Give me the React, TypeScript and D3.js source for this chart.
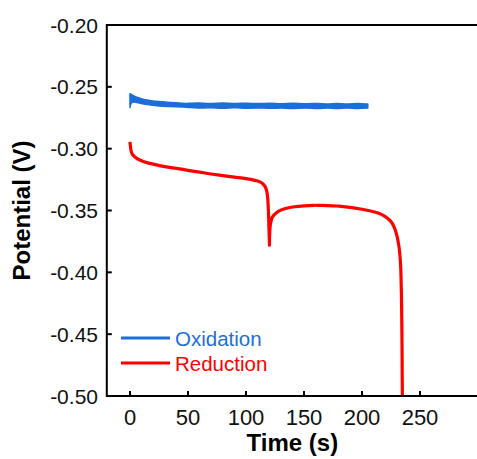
import React from "react";
import * as d3 from "d3";

// oxidation trace: drawn as a thin band (upper / lower envelope of the noisy signal)
const oxTime = [0, 0.8, 3, 7, 12, 18, 25, 32, 40, 45, 50, 58, 69, 80, 90, 101, 111, 121, 130, 140, 151, 162, 170, 178, 187, 196, 205];
const oxUpper = [-0.2555, -0.256, -0.2572, -0.2588, -0.2603, -0.2612, -0.262, -0.2625, -0.263, -0.2633, -0.2635, -0.2627, -0.2637, -0.2628, -0.2638, -0.2629, -0.2639, -0.2629, -0.264, -0.263, -0.264, -0.2631, -0.2641, -0.2632, -0.2641, -0.2632, -0.2639];
const oxLower = [-0.2668, -0.2625, -0.2622, -0.2628, -0.264, -0.2648, -0.2655, -0.2659, -0.2662, -0.2664, -0.2665, -0.2675, -0.2665, -0.2676, -0.2666, -0.2677, -0.2667, -0.2677, -0.2668, -0.2678, -0.2668, -0.2679, -0.2669, -0.2678, -0.2669, -0.2678, -0.2671];

// reduction trace
const redTime = [0, 0.5, 1, 2, 4, 8, 12, 20, 30, 40, 50, 60, 70, 80, 90, 100, 105, 110, 114, 116, 117.5, 118.5, 119.3, 119.8, 120.2, 120.6, 121.5, 123, 126, 130, 135, 140, 150, 160, 170, 180, 190, 200, 210, 215, 220, 225, 228, 230, 232, 233, 233.8, 234.3, 234.6, 234.8, 235];
const redValue = [-0.2945, -0.299, -0.302, -0.3045, -0.3065, -0.309, -0.3105, -0.3125, -0.3145, -0.316, -0.3175, -0.319, -0.3205, -0.3218, -0.323, -0.3242, -0.325, -0.3262, -0.328, -0.33, -0.333, -0.338, -0.35, -0.365, -0.378, -0.365, -0.359, -0.355, -0.352, -0.3497, -0.3482, -0.3472, -0.3462, -0.3458, -0.346, -0.3465, -0.3475, -0.349, -0.351, -0.3525, -0.355, -0.359, -0.364, -0.37, -0.38, -0.39, -0.41, -0.44, -0.47, -0.5, -0.51];

const xTicks = [0, 50, 100, 150, 200, 250];
const yTicks = [-0.2, -0.25, -0.3, -0.35, -0.4, -0.45, -0.5];

const seriesNames = ["Oxidation", "Reduction"];
const seriesColors = ["#1c6ed9", "#ff0000"];

const W = 477;
const H = 459;
const left = 106.8;
const right = 478;
const top = 25;
const bottom = 396;

export default function App() {
  const x = d3.scaleLinear().domain([-20, 300]).range([left, right]);
  const y = d3.scaleLinear().domain([-0.5, -0.2]).range([bottom, top]);

  const oxRows = oxTime.map((t, i) => ({ t, hi: oxUpper[i], lo: oxLower[i] }));
  const oxArea = d3
    .area<{ t: number; hi: number; lo: number }>()
    .x((d) => x(d.t))
    .y0((d) => y(d.lo))
    .y1((d) => y(d.hi))
    .curve(d3.curveBasis);

  const redRows = redTime.map((t, i) => ({ t, v: redValue[i] }));
  const redLine = d3
    .line<{ t: number; v: number }>()
    .x((d) => x(d.t))
    .y((d) => y(d.v))
    .curve(d3.curveMonotoneY);

  const fmt = (v: number) => d3.format(".2f")(v).replace("\u2212", "-");
  const font = "Arial, 'Liberation Sans', sans-serif";

  return (
    <svg
      width={W}
      height={H}
      style={{ position: "absolute", left: 0, top: 0, background: "#fff" }}
      fontFamily={font}
    >
      <defs>
        <clipPath id="plot">
          <rect x={left} y={top} width={right - left} height={bottom - top} />
        </clipPath>
      </defs>

      <g clipPath="url(#plot)">
        <path
          d={oxArea(oxRows) || ""}
          fill={seriesColors[0]}
          stroke={seriesColors[0]}
          strokeWidth={1.5}
          strokeLinejoin="round"
        />
        <path
          d={redLine(redRows) || ""}
          fill="none"
          stroke={seriesColors[1]}
          strokeWidth={3.2}
          strokeLinejoin="round"
        />
      </g>

      {/* frame */}
      <rect
        x={left}
        y={top}
        width={right - left}
        height={bottom - top}
        fill="none"
        stroke="#000"
        strokeWidth={2}
      />

      {/* y axis */}
      {yTicks.map((v) => (
        <g key={v}>
          <line x1={left} x2={left + 5} y1={y(v)} y2={y(v)} stroke="#000" strokeWidth={2} />
          <text
            x={98}
            y={y(v)}
            dy="0.36em"
            textAnchor="end"
            fontSize={21}
            fill="#111"
          >
            {fmt(v)}
          </text>
        </g>
      ))}

      {/* x axis */}
      {xTicks.map((t) => (
        <g key={t}>
          <line x1={x(t)} x2={x(t)} y1={bottom} y2={bottom - 5} stroke="#000" strokeWidth={2} />
          <text x={x(t)} y={425} textAnchor="middle" fontSize={22} fill="#111">
            {t}
          </text>
        </g>
      ))}

      <text x={(left + right) / 2} y={451} textAnchor="middle" fontSize={24} fontWeight="bold" fill="#000">
        Time (s)
      </text>
      <text
        transform={`translate(29.5,${(top + bottom) / 2}) rotate(-90)`}
        textAnchor="middle"
        fontSize={24}
        fontWeight="bold"
        fill="#000"
      >
        Potential (V)
      </text>

      {/* legend */}
      {seriesNames.map((name, i) => (
        <g key={name} transform={`translate(0,${338 + i * 25})`}>
          <line x1={121} x2={170} y1={0} y2={0} stroke={seriesColors[i]} strokeWidth={3} />
          <text x={175} y={8} fontSize={20.5} fill={seriesColors[i]}>
            {name}
          </text>
        </g>
      ))}
    </svg>
  );
}
